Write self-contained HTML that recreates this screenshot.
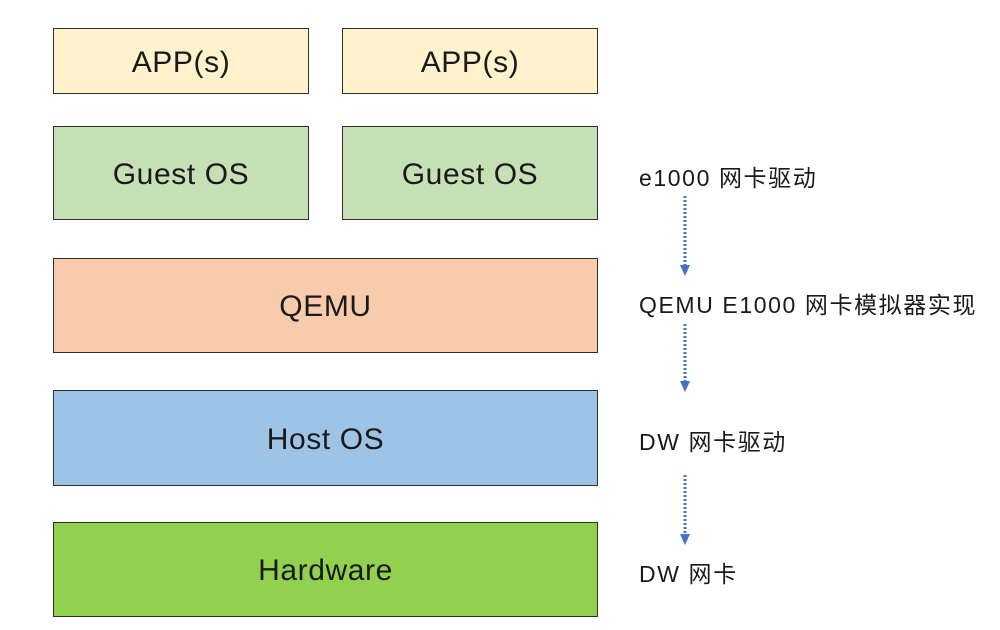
<!DOCTYPE html>
<html><head><style>
body{margin:0;width:1000px;height:630px;background:#fff;position:relative;font-family:"Liberation Sans","Noto Sans CJK SC",sans-serif;overflow:hidden}
.b{position:absolute;box-sizing:border-box;border:1.5px solid #2f2f2f;display:flex;align-items:center;justify-content:center;font-size:30px;letter-spacing:0.6px;color:#1a1a1a;padding-top:3px}
.t{position:absolute;font-size:23px;letter-spacing:1.6px;color:#1a1a1a;left:639px;white-space:nowrap}
</style></head><body>
<div class="b" style="left:53px;top:28px;width:256px;height:66px;background:#fff2cc">APP(s)</div>
<div class="b" style="left:342px;top:28px;width:256px;height:66px;background:#fff2cc">APP(s)</div>
<div class="b" style="left:53px;top:126px;width:256px;height:94px;background:#c5e0b4">Guest OS</div>
<div class="b" style="left:342px;top:126px;width:256px;height:94px;background:#c5e0b4">Guest OS</div>
<div class="b" style="left:53px;top:258px;width:545px;height:95px;background:#f8cbad">QEMU</div>
<div class="b" style="left:53px;top:390px;width:545px;height:96px;background:#9dc3e6">Host OS</div>
<div class="b" style="left:53px;top:522px;width:545px;height:95px;background:#92d050">Hardware</div>
<div class="t" style="top:159px">e1000 网卡驱动</div>
<div class="t" style="top:286px">QEMU E1000 网卡模拟器实现</div>
<div class="t" style="top:423px">DW 网卡驱动</div>
<div class="t" style="top:555px">DW 网卡</div>
<svg width="1000" height="630" style="position:absolute;left:0;top:0">
<g stroke="#4472c4" stroke-width="3" stroke-dasharray="2,2">
<line x1="685" y1="196" x2="685" y2="266"/>
<line x1="685" y1="324" x2="685" y2="382"/>
<line x1="685" y1="475" x2="685" y2="535"/>
</g>
<g fill="#4472c4">
<polygon points="680,265 690,265 685,276"/>
<polygon points="680,381 690,381 685,392"/>
<polygon points="680,534 690,534 685,545"/>
</g>
</svg>
</body></html>
